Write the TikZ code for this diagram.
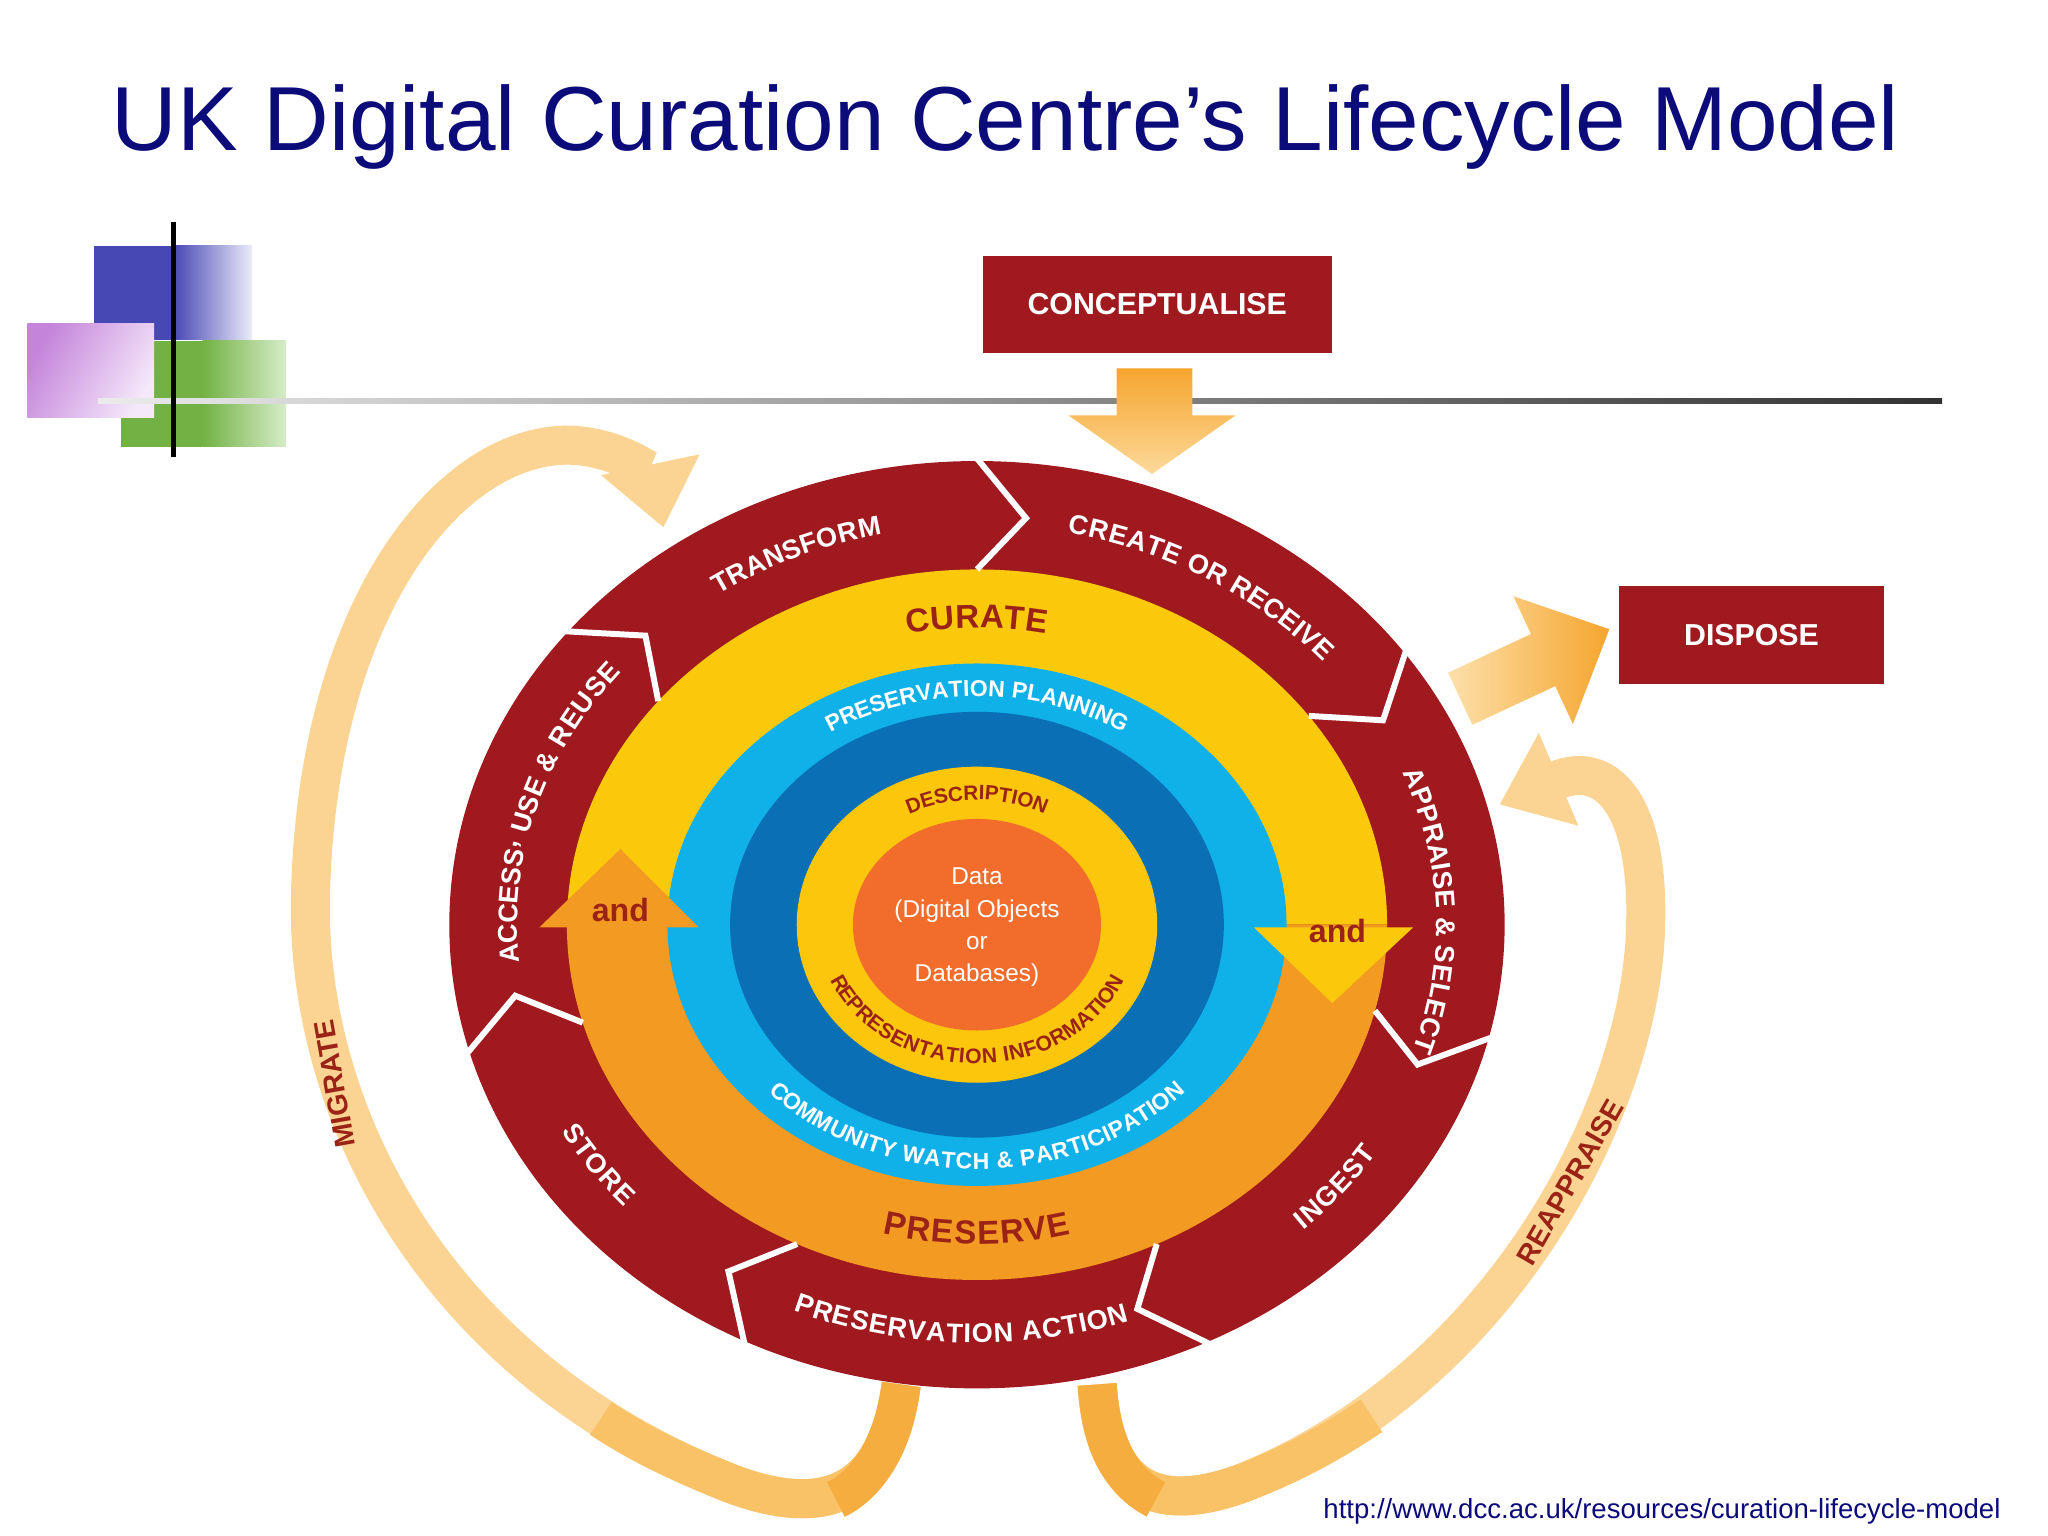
\documentclass[tikz,border=0pt]{standalone}
\usepackage{fontspec}
\setmainfont{Liberation Sans}
\setsansfont{Liberation Sans}
\usetikzlibrary{arrows.meta}
\definecolor{dred}{HTML}{A0191E}
\definecolor{ringY}{HTML}{FBC90B}
\definecolor{ringO}{HTML}{F39A23}
\definecolor{lblue}{HTML}{10B0E8}
\definecolor{dblue}{HTML}{0A6FB5}
\definecolor{inY}{HTML}{FBC60C}
\definecolor{coreO}{HTML}{F26D2B}
\definecolor{brn}{HTML}{9B2316}
\definecolor{navy}{HTML}{0B0B7A}
\definecolor{paleO}{HTML}{FBD392}
\definecolor{midO}{HTML}{F9C266}
\definecolor{deepO}{HTML}{F6AD40}
\definecolor{sqB}{HTML}{4848B4}
\definecolor{sqG}{HTML}{72B244}
\newcommand\outf{\sffamily\bfseries\fontsize{5.9}{7}\selectfont\color{white}}
\newcommand\ringf{\sffamily\bfseries\fontsize{7.2}{8}\selectfont\color{brn}}
\newcommand\bluef{\sffamily\bfseries\fontsize{5.0}{6}\selectfont\color{white}}
\newcommand\descf{\sffamily\bfseries\fontsize{4.5}{5}\selectfont\color{brn}}
\newcommand\repf{\sffamily\bfseries\fontsize{4.6}{5}\selectfont\color{brn}}
% #1 rx #2 ry #3 center angle #4 font #5 dir (1 clockwise/top, -1 ccw/bottom) #6 tracking pt #7 letters
\newcommand\arctext[7]{\begingroup#4%
 \pgfmathsetmacro\Rloc{100*sqrt((#1/100*sin(#3))^2+(#2/100*cos(#3))^2)}%
 \xdef\totw{0}%
 \foreach \ch in {#7}{\pgfmathsetmacro\cw{width("{\ch}")+#6}\pgfmathsetmacro\tmpw{\totw+\cw}\xdef\totw{\tmpw}}%
 \xdef\curw{0}%
 \foreach \ch in {#7}{%
  \pgfmathsetmacro\cw{width("{\ch}")+#6}%
  \pgfmathsetmacro\mymid{\curw+\cw/2-\totw/2}%
  \pgfmathsetmacro\myang{#3-#5*\mymid/0.28453/\Rloc*57.2958}%
  \pgfmathsetmacro\myrot{atan2(-#5*#2*cos(\myang),#5*#1*sin(\myang))}%
  \node[inner sep=0,rotate=\myrot] at ({748+#1*cos(\myang)},{468+#2*sin(\myang)}) {\ch};%
  \pgfmathsetmacro\tmpw{\curw+\cw}\xdef\curw{\tmpw}}%
 \endgroup}
\newcommand\ringsep[1]{\draw[white,line width=1.3pt,line join=miter] ({748+314*cos(#1)},{468+272*sin(#1)}) -- ({748+359*cos(#1-6)},{468+313*sin(#1-6)}) -- ({748+406*cos(#1)},{468+357*sin(#1)});}
\tikzset{redbox/.style={fill=dred,draw=none,font=\sffamily\bfseries\fontsize{6.6}{7}\selectfont,text=white}}
\begin{document}
\begin{tikzpicture}[x=0.01cm,y=0.01cm]
\useasboundingbox (0,0) rectangle (1568,1176);
\fill[white] (0,0) rectangle (1568,1176);
% title
\node[text=navy,font=\fontsize{19.8}{21}\selectfont] (title) at (770,1079) {UK Digital Curation Centre’s Lifecycle Model};
% decoration
\fill[sqB] (72,916) rectangle (133,988);
\shade[left color=sqB,right color={rgb,255:red,235;green,235;blue,250}] (133,916) rectangle (193,988);
\fill[sqG] (93,834) rectangle (155,915);
\shade[left color=sqG,right color={rgb,255:red,214;green,236;blue,200}] (155,834) rectangle (219,915);
\shade[left color={rgb,255:red,196;green,132;blue,218},right color={rgb,255:red,245;green,232;blue,250},shading angle=60] (21,856) rectangle (118,928);
\shade[left color={rgb,255:red,235;green,235;blue,235},right color={rgb,255:red,50;green,50;blue,50}] (75,867) rectangle (1487,871);
\draw[black,line width=1.2pt] (133,826) -- (133,1006);
% boxes
\node[redbox,minimum width=2.67cm,minimum height=0.74cm] (concept) at (886,943) {CONCEPTUALISE};
\node[redbox,minimum width=2.03cm,minimum height=0.75cm] (dispose) at (1341,690) {DISPOSE};
% conceptualise arrow
\shade[top color={rgb,255:red,246;green,165;blue,46},bottom color={rgb,255:red,252;green,217;blue,154}] (855,894) -- (913,894) -- (913,858) -- (946,858) -- (882,813) -- (818,858) -- (855,858) -- cycle;
% dispose arrow
\begin{scope}[shift={(1118,641)},rotate=25]
\shade[left color={rgb,255:red,252;green,224;blue,170},right color={rgb,255:red,246;green,165;blue,46}] (0,-22) -- (70,-22) -- (70,-54) -- (126,0) -- (70,54) -- (70,22) -- (0,22) -- cycle;
\end{scope}
% migrate arrow
\draw[paleO,line width=8.5pt,-{Triangle[length=14pt,width=21pt]}] (690,116) .. controls (680,40) and (640,10) .. (560,40) .. controls (330,130) and (230,330) .. (238,500) .. controls (246,720) and (350,840) .. (440,835) .. controls (480,832) and (500,810) .. (508,772);
\draw[midO,line width=8.5pt] (690,116) .. controls (680,40) and (640,10) .. (560,40) .. controls (520,56) and (490,70) .. (460,90);
\draw[deepO,line width=8.5pt] (690,116) .. controls (684,70) and (665,40) .. (640,28);
% reappraise arrow
\draw[paleO,line width=8.5pt,-{Triangle[length=14pt,width=21pt]}] (840,116) .. controls (845,40) and (880,15) .. (950,40) .. controls (1150,120) and (1258,330) .. (1260,470) .. controls (1262,560) and (1230,595) .. (1148,560);
\draw[midO,line width=8.5pt] (840,116) .. controls (845,40) and (880,15) .. (950,40) .. controls (990,55) and (1020,72) .. (1050,92);
\draw[deepO,line width=8.5pt] (840,116) .. controls (843,70) and (858,42) .. (885,28);
\node[rotate=100,text=brn,font=\sffamily\bfseries\fontsize{6.2}{7}\selectfont] (migrate) at (256,346) {MIGRATE};
\node[rotate=60,text=brn,font=\sffamily\bfseries\fontsize{6.2}{7}\selectfont] (reapp) at (1202,271) {REAPPRAISE};
% rings
\fill[dred] (748,468) ellipse [x radius=404,y radius=355];
\fill[ringY] (1062,468) arc[start angle=0,end angle=180,x radius=314,y radius=272] -- cycle;
\fill[ringO] (434,468) arc[start angle=180,end angle=360,x radius=314,y radius=272] -- cycle;
\fill[lblue] (748,468) ellipse [x radius=237,y radius=200];
\fill[dblue] (748,468) ellipse [x radius=189,y radius=163];
\fill[inY] (748,468) ellipse [x radius=138,y radius=121];
\fill[coreO] (748,468) ellipse [x radius=95,y radius=81];
% and arrows
\fill[ringO] (413,466) -- (535,466) -- (475,526) -- cycle;
\fill[ringY] (960,466) -- (1082,466) -- (1020,408) -- cycle;
\node[text=brn,font=\sffamily\bfseries\fontsize{7}{8}\selectfont] (andL) at (475,479) {and};
\node[text=brn,font=\sffamily\bfseries\fontsize{7}{8}\selectfont] (andR) at (1024,463) {and};
% separators
\ringsep{90}\ringsep{36}\ringsep{-14}\ringsep{-64}\ringsep{-116}\ringsep{196}\ringsep{141}
% outer labels
\arctext{359}{313}{113}{\outf}{1}{0.15}{T,R,A,N,S,F,O,R,M}
\arctext{359}{313}{60}{\outf}{1}{0.15}{C,R,E,A,T,E,{\ },O,R,{\ },R,E,C,E,I,V,E}
\arctext{359}{313}{2}{\outf}{1}{0.15}{A,P,P,R,A,I,S,E,{\ },\&,{\ },S,E,L,E,C,T}
\arctext{359}{313}{163}{\outf}{1}{0.15}{A,C,C,E,S,S,{,},{\ },U,S,E,{\ },\&,{\ },R,E,U,S,E}
\arctext{359}{313}{-40}{\outf}{-1}{0.15}{I,N,G,E,S,T}
\arctext{359}{313}{-92}{\outf}{-1}{0.15}{P,R,E,S,E,R,V,A,T,I,O,N,{\ },A,C,T,I,O,N}
\arctext{359}{313}{216}{\outf}{-1}{0.15}{S,T,O,R,E}
% ring labels
\arctext{276}{236}{90}{\ringf}{1}{0.2}{C,U,R,A,T,E}
\arctext{276}{236}{270}{\ringf}{-1}{0.2}{P,R,E,S,E,R,V,E}
\arctext{213}{181}{90}{\bluef}{1}{0.1}{P,R,E,S,E,R,V,A,T,I,O,N,{\ },P,L,A,N,N,I,N,G}
\arctext{213}{181}{270}{\bluef}{-1}{0.1}{C,O,M,M,U,N,I,T,Y,{\ },W,A,T,C,H,{\ },\&,{\ },P,A,R,T,I,C,I,P,A,T,I,O,N}
\arctext{117}{101}{90}{\descf}{1}{0.1}{D,E,S,C,R,I,P,T,I,O,N}
\arctext{117}{101}{270}{\repf}{-1}{0.05}{R,E,P,R,E,S,E,N,T,A,T,I,O,N,{\ },I,N,F,O,R,M,A,T,I,O,N}
\node[align=center,text=white,font=\sffamily\fontsize{5.3}{7}\selectfont] (data) at (748,466) {Data\\(Digital Objects\\or\\Databases)};
% url
\node[anchor=east,text=navy,font=\sffamily\fontsize{6}{7}\selectfont] (url) at (1544,19) {http://www.dcc.ac.uk/resources/curation-lifecycle-model};
\end{tikzpicture}
\end{document}
